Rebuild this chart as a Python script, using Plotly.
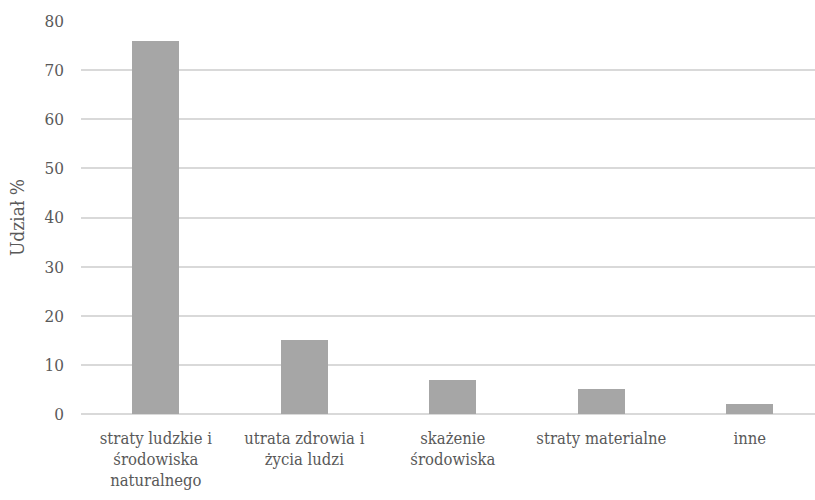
import plotly.graph_objects as go

categories = ["straty ludzkie i<br>środowiska<br>naturalnego", "utrata zdrowia i<br>życia ludzi",
              "skażenie<br>środowiska", "straty materialne", "inne"]
values = [76, 15, 7, 5, 2]
y_ticks = [0, 10, 20, 30, 40, 50, 60, 70, 80]
y_title = "Udział %"

FONT = "DejaVu Serif Condensed"

fig = go.Figure(go.Bar(x=list(range(len(categories))), y=values, width=0.315,
                       marker=dict(color="#a6a6a6", line=dict(width=0)),
                       hoverinfo="skip"))

fig.update_layout(
    width=815, height=500,
    margin=dict(l=81, r=0, t=21, b=86, autoexpand=False),
    paper_bgcolor="white", plot_bgcolor="white",
    showlegend=False,
    font=dict(family=FONT, size=16, color="#595959"),
    bargap=0,
)
fig.update_xaxes(range=[-0.504, 4.439], tickmode="array",
                 tickvals=list(range(len(categories))), ticktext=categories,
                 showgrid=False, showline=False, zeroline=False, ticks="",
                 automargin=False, ticklabelstandoff=12,
                 tickfont=dict(family=FONT, size=16.5, color="#595959"))
fig.update_yaxes(range=[0, 80], tickmode="array", tickvals=y_ticks,
                 showgrid=True, gridcolor="#d9d9d9", gridwidth=1.5,
                 zeroline=True, zerolinecolor="#d9d9d9", zerolinewidth=1.5,
                 showline=False, ticks="", ticklabelstandoff=16,
                 automargin=False,
                 tickfont=dict(family=FONT, size=17, color="#595959"),
                 title=dict(text=y_title, font=dict(family=FONT, size=19, color="#595959"),
                            standoff=14))

fig.write_html("out.html", config={"displayModeBar": False},
               post_script="document.body.style.margin='0';document.body.style.overflow='hidden';")
